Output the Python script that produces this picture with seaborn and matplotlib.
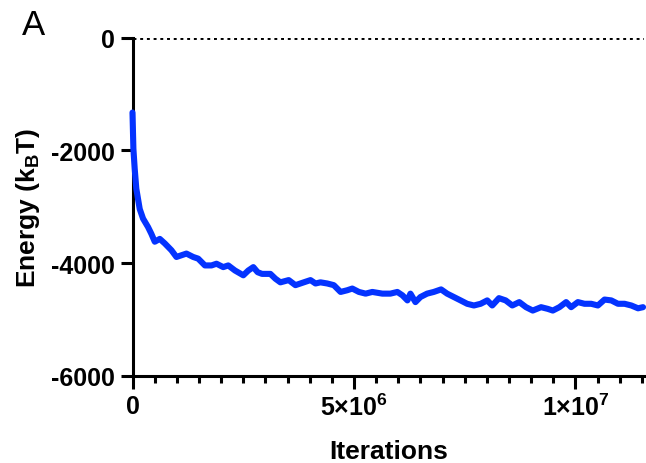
import matplotlib
matplotlib.use("Agg")
import matplotlib.pyplot as plt
import matplotlib.ticker as mticker
import numpy as np
import pandas as pd
import seaborn as sns

# Data (iterations in millions, energy in kBT)
iterations_m = [0.0, 0.02, 0.05, 0.086, 0.163, 0.238, 0.351, 0.426, 0.503, 0.616,
                0.729, 0.878, 0.992, 1.105, 1.218, 1.370, 1.483, 1.635, 1.784, 1.897,
                2.049, 2.162, 2.314, 2.502, 2.615, 2.728, 2.825, 2.925, 3.113, 3.226,
                3.339, 3.527, 3.679, 3.867, 4.019, 4.132, 4.245, 4.397, 4.546, 4.698,
                4.849, 4.963, 5.112, 5.264, 5.415, 5.642, 5.823, 5.981, 6.095, 6.208,
                6.276, 6.389, 6.502, 6.652, 6.803, 6.968, 7.104, 7.256, 7.408, 7.557,
                7.709, 7.861, 8.010, 8.123, 8.275, 8.426, 8.576, 8.734, 8.886, 9.038,
                9.226, 9.377, 9.491, 9.640, 9.792, 9.905, 10.057, 10.206, 10.358, 10.509,
                10.659, 10.811, 10.962, 11.111, 11.263, 11.415, 11.528]
energy = [-1330, -1970, -2330, -2680, -3040, -3210, -3360, -3480, -3620, -3570,
          -3650, -3770, -3890, -3860, -3830, -3890, -3920, -4040, -4040, -4010,
          -4070, -4040, -4130, -4215, -4130, -4070, -4160, -4190, -4190, -4275,
          -4340, -4300, -4390, -4340, -4300, -4360, -4340, -4360, -4390, -4510,
          -4480, -4450, -4510, -4540, -4510, -4540, -4540, -4510, -4570, -4660,
          -4540, -4690, -4600, -4540, -4510, -4465, -4540, -4600, -4660, -4720,
          -4750, -4720, -4660, -4750, -4620, -4660, -4750, -4690, -4780, -4840,
          -4780, -4810, -4840, -4780, -4690, -4780, -4690, -4720, -4720, -4750,
          -4645, -4660, -4720, -4720, -4750, -4800, -4780]
y_ticks = [0, -2000, -4000, -6000]
y_tick_labels = ["0", "-2000", "-4000", "-6000"]
x_ticks = [0, 5e6, 1e7]
x_tick_labels = [r"$\mathbf{0}$", r"$\mathbf{5{\times}10^{6}}$", r"$\mathbf{1{\times}10^{7}}$"]

df = pd.DataFrame({"Iterations": np.array(iterations_m) * 1e6, "Energy": energy})

sns.set_style("ticks")
plt.rcParams["font.family"] = ["Liberation Sans", "DejaVu Sans"]
plt.rcParams["font.weight"] = "bold"
plt.rcParams["mathtext.fontset"] = "custom"
plt.rcParams["mathtext.rm"] = "Liberation Sans:bold"
plt.rcParams["mathtext.bf"] = "Liberation Sans:bold"
plt.rcParams["mathtext.it"] = "Liberation Sans:bold:italic"
for k in ["text.color", "axes.labelcolor", "xtick.color", "ytick.color",
          "xtick.labelcolor", "ytick.labelcolor", "axes.edgecolor"]:
    plt.rcParams[k] = "black"

fig = plt.figure(figsize=(6.46, 4.64), dpi=100)
ax = fig.add_axes([132.5 / 646, 1 - 377 / 464, (644 - 132.5) / 646, (377 - 38.5) / 464])

sns.lineplot(data=df, x="Iterations", y="Energy", ax=ax, color="#0433FF",
             linewidth=4.4, estimator=None, sort=False, clip_on=False, zorder=3)
ax.axhline(0, color="black", linestyle=(0, (1, 1.3)), linewidth=2.1, zorder=1)

ax.set_xlim(0, 11.55e6)
ax.set_ylim(-6000, 0)
ax.set_yticks(y_ticks)
ax.set_yticklabels(y_tick_labels)
ax.set_xticks(x_ticks)
ax.set_xticklabels(x_tick_labels)
ax.xaxis.set_minor_locator(mticker.MultipleLocator(5e5))

for s in ["top", "right"]:
    ax.spines[s].set_visible(False)
for s in ["left", "bottom"]:
    ax.spines[s].set_linewidth(2.2)
ax.tick_params(axis="both", which="major", length=9, width=2.2, pad=4,
               labelsize=18, colors="black")
ax.tick_params(axis="x", which="minor", length=5, width=2.2)

ax.set_xlabel("Iterations", fontsize=19, fontweight="bold", labelpad=13)
ax.set_ylabel(r"Energy (k$_{\mathbf{B}}$T)", fontsize=19, fontweight="bold", labelpad=6)

fig.text(22 / 646, 1 - 35 / 464, "A", fontsize=25, fontweight="normal",
         ha="left", va="baseline")

fig.savefig("out.png", dpi=100)
